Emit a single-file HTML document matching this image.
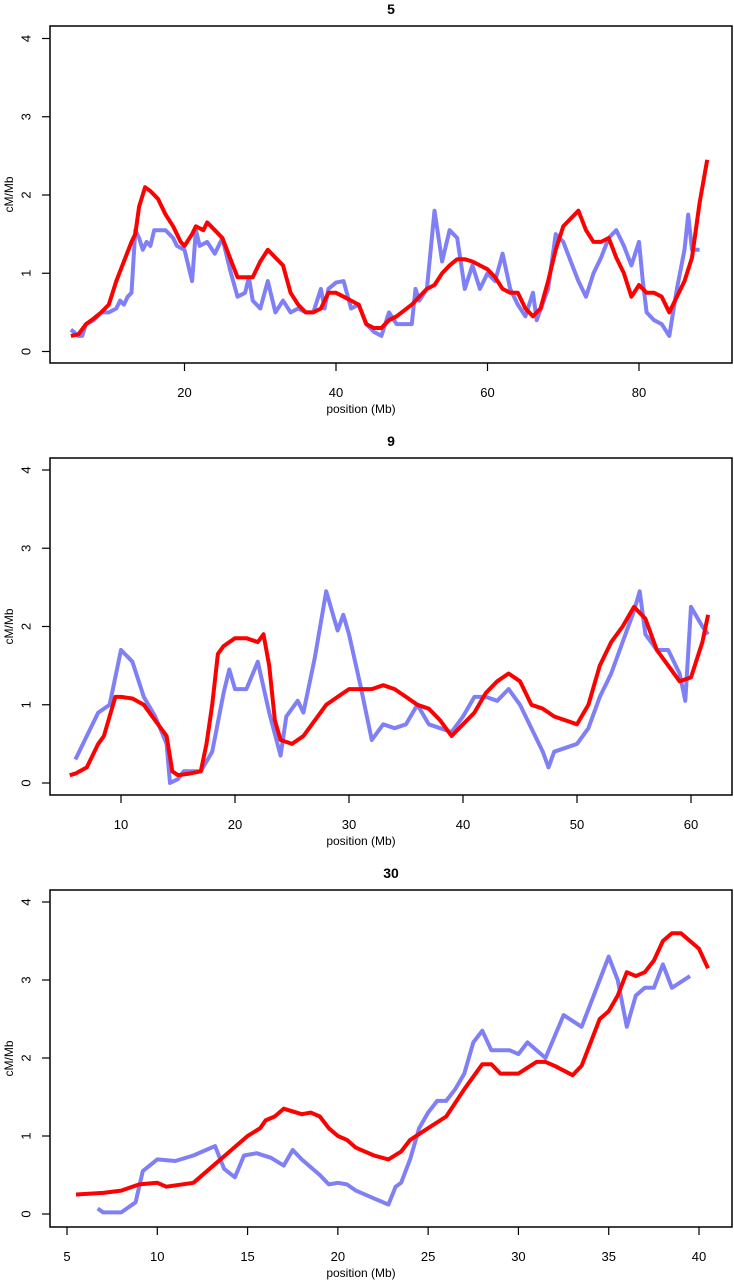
<!DOCTYPE html>
<html><head><meta charset="utf-8"><style>
body{margin:0;background:#fff;}
svg{display:block;font-family:"Liberation Sans",sans-serif;}
</style></head><body>
<svg id="c" width="734" height="1280"></svg>
<script>
const p1RedX=[5,6,7,8,9,10,11,12,13,13.5,14,14.8,15.5,16.5,17.5,18.5,19.5,20,21,21.5,22.5,23,24,25,26,27,28,29,30,31,32,33,34,35,36,37,38,39,40,41,42,43,44,45,46,47,48,50,51,52,53,54,55,56,57,58,59,60,61,62,63,64,65,66,67,68,69,70,71,72,73,74,75,76,77,78,79,80,81,82,83,84,85,86,87,88,89];
const p1RedY=[0.2,0.22,0.35,0.42,0.5,0.6,0.9,1.15,1.4,1.5,1.85,2.1,2.05,1.95,1.75,1.6,1.4,1.35,1.5,1.6,1.55,1.65,1.55,1.45,1.2,0.95,0.95,0.95,1.15,1.3,1.2,1.1,0.75,0.6,0.5,0.5,0.55,0.75,0.75,0.7,0.65,0.6,0.35,0.3,0.3,0.4,0.45,0.6,0.7,0.8,0.85,1.0,1.1,1.18,1.18,1.15,1.1,1.05,0.95,0.8,0.75,0.75,0.55,0.45,0.55,0.9,1.3,1.6,1.7,1.8,1.55,1.4,1.4,1.45,1.2,1.0,0.7,0.85,0.75,0.75,0.7,0.5,0.7,0.9,1.2,1.9,2.45];
const p1BlueX=[5,6,6.5,7,8,9,10,11,11.5,12,12.5,13,13.5,14,14.5,15,15.5,16,17.5,18.5,19,20,21,21.5,22,23,24,25,26,27,28,28.5,29,30,31,32,33,34,35,36,37,38,38.5,39,40,41,42,43,44,45,46,47,48,50,50.5,51,52,53,54,55,56,57,58,59,60,61,62,63,64,65,66,66.5,68,69,70,71,72,73,74,75,76,77,78,79,80,80.5,81,82,83,84,85,86,86.5,87,88];
const p1BlueY=[0.28,0.2,0.2,0.35,0.4,0.5,0.5,0.55,0.65,0.6,0.7,0.75,1.55,1.45,1.3,1.4,1.35,1.55,1.55,1.45,1.35,1.3,0.9,1.55,1.35,1.4,1.25,1.45,1.05,0.7,0.75,0.95,0.65,0.55,0.9,0.5,0.65,0.5,0.55,0.5,0.5,0.8,0.55,0.8,0.88,0.9,0.55,0.6,0.35,0.25,0.2,0.5,0.35,0.35,0.8,0.65,0.8,1.8,1.15,1.55,1.45,0.8,1.1,0.8,1.0,0.9,1.25,0.8,0.6,0.45,0.75,0.4,0.8,1.5,1.4,1.15,0.9,0.7,1.0,1.2,1.45,1.55,1.35,1.1,1.4,0.9,0.5,0.4,0.35,0.2,0.8,1.3,1.75,1.3,1.3];
const p2RedX=[5.5,6,7,7.5,8,8.5,9,9.5,10,11,12,13,14,14.5,15,16,17,17.5,18,18.5,19,20,21,22,22.5,23,23.5,24,25,26,27,28,29,30,31,32,33,34,35,36,37,38,39,40,41,42,43,44,45,46,47,48,49,50,51,52,53,54,55,56,57,58,59,60,61,61.5];
const p2RedY=[0.1,0.12,0.2,0.35,0.5,0.6,0.85,1.1,1.1,1.08,1.0,0.8,0.6,0.15,0.1,0.12,0.15,0.5,1.0,1.65,1.75,1.85,1.85,1.8,1.9,1.5,0.8,0.55,0.5,0.6,0.8,1.0,1.1,1.2,1.2,1.2,1.25,1.2,1.1,1.0,0.95,0.8,0.6,0.75,0.9,1.15,1.3,1.4,1.3,1.0,0.95,0.85,0.8,0.75,1.0,1.5,1.8,2.0,2.25,2.1,1.7,1.5,1.3,1.35,1.8,2.15];
const p2BlueX=[6,7,8,9,10,11,12,13,14,14.3,15,15.5,17,18,19,19.5,20,21,22,23,24,24.5,25.5,26,27,28,29,29.5,30,31,32,33,34,35,36,37,38,39,40,41,42,43,44,45,46,47,47.5,48,49,50,51,52,53,54,55,55.5,56,57,58,59,59.5,60,61,61.5];
const p2BlueY=[0.3,0.6,0.9,1.0,1.7,1.55,1.1,0.85,0.5,0.0,0.05,0.15,0.15,0.4,1.15,1.45,1.2,1.2,1.55,0.9,0.35,0.85,1.05,0.9,1.6,2.45,1.95,2.15,1.9,1.25,0.55,0.75,0.7,0.75,1.0,0.75,0.7,0.65,0.85,1.1,1.1,1.05,1.2,1.0,0.7,0.4,0.2,0.4,0.45,0.5,0.7,1.1,1.4,1.8,2.2,2.45,1.9,1.7,1.7,1.4,1.05,2.25,2.0,1.9];
const p3RedX=[5.5,7,8,9,10,10.5,12,13,14,15,15.7,16,16.5,17,18,18.5,19,19.5,20,20.5,21,22,22.8,23.5,24,25,26,27,28,28.5,29,30,31,31.5,32,33,33.5,34,34.5,35,35.5,36,36.5,37,37.5,38,38.5,39,39.5,40,40.5];
const p3RedY=[0.25,0.27,0.3,0.38,0.4,0.35,0.4,0.6,0.8,1.0,1.1,1.2,1.25,1.35,1.28,1.3,1.25,1.1,1.0,0.95,0.85,0.75,0.7,0.8,0.95,1.1,1.25,1.6,1.92,1.92,1.8,1.8,1.95,1.95,1.9,1.78,1.9,2.2,2.5,2.6,2.8,3.1,3.05,3.1,3.25,3.5,3.6,3.6,3.5,3.4,3.15];
const p3BlueX=[6.7,7,7.5,8,8.8,9.2,10,11,12,13.2,13.7,14.3,14.8,15.5,16.3,17,17.5,18,19,19.5,20,20.5,21,22,22.8,23.2,23.5,24,24.5,25,25.5,26,26.5,27,27.5,28,28.5,29.5,30,30.5,31.5,32.5,33.5,34,34.5,35,35.5,36,36.5,37,37.5,38,38.5,39.5];
const p3BlueY=[0.07,0.02,0.02,0.02,0.15,0.55,0.7,0.68,0.75,0.87,0.58,0.47,0.75,0.78,0.72,0.62,0.82,0.7,0.5,0.38,0.4,0.38,0.3,0.2,0.12,0.35,0.4,0.7,1.1,1.3,1.45,1.45,1.6,1.8,2.2,2.35,2.1,2.1,2.05,2.2,2.0,2.55,2.4,2.7,3.0,3.3,3.0,2.4,2.8,2.9,2.9,3.2,2.9,3.05];
const yTicks=[0,1,2,3,4];
const p1XTicks=[20,40,60,80];
const p2XTicks=[10,20,30,40,50,60];
const p3XTicks=[5,10,15,20,25,30,35,40];

const NS='http://www.w3.org/2000/svg';
const svg=document.getElementById('c');
function mk(t,a,parent){const e=document.createElementNS(NS,t);for(const k in a)e.setAttribute(k,a[k]);(parent||svg).appendChild(e);return e;}

const panels=[
 {title:'5',top:26,bottom:363,y0:351.5,y4:38.5,xa:20,pa:184.5,xb:80,pb:639,ticks:p1XTicks,red:[p1RedX,p1RedY],blue:[p1BlueX,p1BlueY]},
 {title:'9',top:458,bottom:795,y0:783,y4:470,xa:10,pa:121,xb:60,pb:691,ticks:p2XTicks,red:[p2RedX,p2RedY],blue:[p2BlueX,p2BlueY]},
 {title:'30',top:890,bottom:1227,y0:1214,y4:902,xa:5,pa:67,xb:40,pb:699,ticks:p3XTicks,red:[p3RedX,p3RedY],blue:[p3BlueX,p3BlueY]}
];
panels.forEach((P,i)=>{
 const g=mk('g',{});
 
 
 const xs=v=>P.pa+(v-P.xa)*(P.pb-P.pa)/(P.xb-P.xa);
 const ys=v=>P.y0+(v)*(P.y4-P.y0)/4;
 const L=50,R=732;
 const t=mk('text',{x:(L+R)/2,y:P.top-12,'text-anchor':'middle','font-size':14,'font-weight':'bold'},g);t.textContent=P.title;
 
 const clip=mk('clipPath',{id:'cl'+i},g);mk('rect',{x:L,y:P.top,width:R-L,height:P.bottom-P.top},clip);
 const lines=mk('g',{'clip-path':'url(#cl'+i+')'},g);
 const path=(X,Y)=>X.map((x,k)=>(k?'L':'M')+xs(x).toFixed(1)+','+ys(Y[k]).toFixed(1)).join('');
 const bl=mk('path',{d:path(P.blue[0],P.blue[1]),fill:'none',stroke:'#0000ee','stroke-opacity':0.5,'stroke-width':4,'stroke-linejoin':'round'},lines);
 
 const rl=mk('path',{d:path(P.red[0],P.red[1]),fill:'none',stroke:'#ff0000','stroke-width':4,'stroke-linejoin':'round'},lines);
 
 const box=mk('rect',{x:L,y:P.top,width:R-L,height:P.bottom-P.top,fill:'none',stroke:'#000','stroke-width':1.5},g);
 
 yTicks.forEach(v=>{
  mk('line',{x1:L,x2:L-8,y1:ys(v),y2:ys(v),stroke:'#000','stroke-width':1.2},g);
  const tt=mk('text',{x:26,y:ys(v),'text-anchor':'middle','font-size':13,transform:'rotate(-90 26 '+ys(v)+')','dominant-baseline':'central'},g);tt.textContent=v;
  
 });
 P.ticks.forEach(v=>{
  mk('line',{x1:xs(v),x2:xs(v),y1:P.bottom,y2:P.bottom+8,stroke:'#000','stroke-width':1.2},g);
  const tt=mk('text',{x:xs(v),y:P.bottom+34,'text-anchor':'middle','font-size':13},g);tt.textContent=v;
  
 });
 const xl=mk('text',{x:(L+R)/2-30,y:P.bottom+50,'text-anchor':'middle','font-size':12},g);xl.textContent='position (Mb)';
 
 const cy=(P.top+P.bottom)/2;
 const yl=mk('text',{x:9,y:cy,'text-anchor':'middle','font-size':12,transform:'rotate(-90 9 '+cy+')','dominant-baseline':'central'},g);yl.textContent='cM/Mb';
 
});
</script>
</body></html>
